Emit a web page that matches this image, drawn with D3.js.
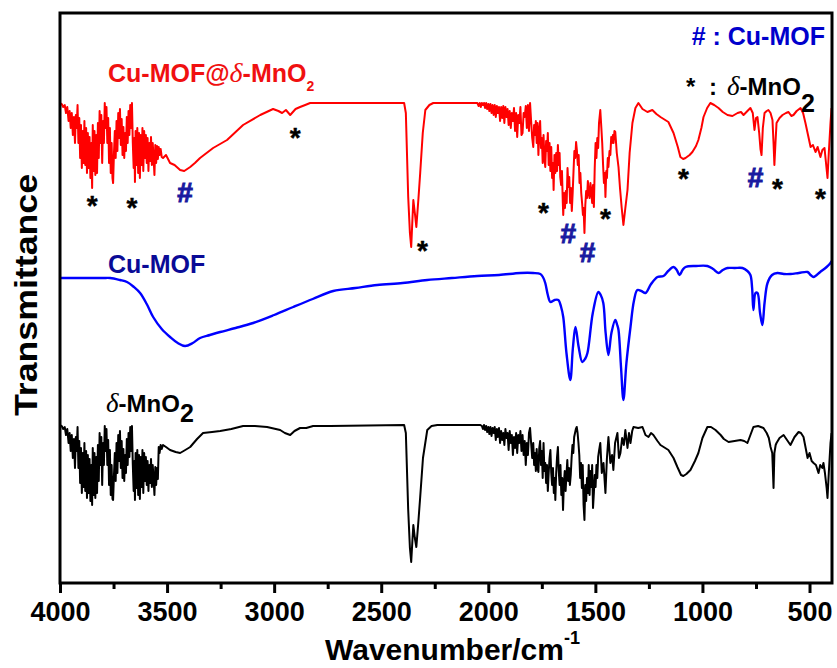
<!DOCTYPE html>
<html>
<head>
<meta charset="utf-8">
<script src="https://cdn.jsdelivr.net/npm/d3@7"></script>
<style>
  body { margin: 0; background: #fff; }
  svg { font-family: 'Liberation Sans', Arial, sans-serif; font-weight: bold; }
  .delta { font-family: 'Liberation Serif', serif; font-style: italic; font-weight: normal; }
</style>
</head>
<body>
<div id="container"></div>
<script>
const w = 837,
  h = 668;
const plotLeft = 60,
  plotRight = 832,
  plotTop = 13,
  plotBottom = 583;

// [wavenumber, transmittance (a.u.)]
const compositeData = [
  [4000, 480], [3992, 479], [3985, 476], [3978, 478], [3972, 470], [3966, 476], [3960, 462], [3955, 472],
  [3950, 455], [3945, 470], [3940, 448], [3935, 466], [3930, 440], [3926, 468], [3922, 455], [3918, 478],
  [3914, 440], [3910, 465], [3906, 425], [3902, 458], [3898, 415], [3894, 452], [3890, 420], [3886, 462],
  [3882, 418], [3878, 455], [3874, 410], [3870, 450], [3866, 415], [3862, 446], [3858, 405], [3854, 440],
  [3850, 395], [3847, 458], [3843, 412], [3839, 452], [3835, 408], [3831, 448], [3827, 410], [3823, 460],
  [3819, 425], [3815, 472], [3811, 440], [3807, 468], [3803, 420], [3799, 462], [3795, 440], [3791, 480],
  [3787, 455], [3783, 476], [3779, 440], [3775, 465], [3771, 420], [3767, 455], [3763, 410], [3759, 440],
  [3755, 405], [3752, 400], [3748, 430], [3744, 452], [3740, 425], [3736, 462], [3732, 432], [3728, 470],
  [3724, 445], [3720, 474], [3716, 438], [3712, 464], [3708, 428], [3704, 456], [3700, 425], [3696, 450],
  [3692, 432], [3688, 466], [3684, 440], [3680, 472], [3676, 448], [3672, 478], [3668, 455], [3664, 480],
  [3660, 440], [3656, 415], [3653, 445], [3650, 401], [3647, 452], [3643, 418], [3639, 455], [3635, 410],
  [3631, 450], [3627, 405], [3623, 448], [3619, 418], [3615, 455], [3611, 412], [3607, 452], [3603, 425],
  [3599, 448], [3595, 420], [3591, 445], [3587, 412], [3583, 440], [3579, 422], [3575, 446], [3571, 418],
  [3567, 440], [3563, 425], [3559, 408], [3555, 438], [3551, 420], [3547, 437], [3543, 424], [3539, 436],
  [3535, 428], [3530, 434], [3525, 426], [3519, 425], [3505, 428], [3486, 420], [3465, 418], [3439, 413],
  [3420, 412], [3392, 416], [3370, 420], [3346, 425], [3285, 435], [3220, 443], [3145, 458], [3065, 468],
  [3005, 474], [2980, 472], [2963, 470], [2945, 473], [2925, 468], [2900, 474], [2879, 476], [2855, 478],
  [2832, 480], [2393, 480], [2385, 470], [2374, 386], [2366, 350], [2360, 336], [2355, 360], [2350, 383],
  [2343, 370], [2336, 356], [2326, 385], [2318, 410], [2306, 450], [2294, 473], [2275, 478], [2257, 480],
  [2051, 480], [2045, 477], [2040, 480], [2035, 476], [2030, 480], [2025, 478], [2020, 480], [2015, 475],
  [2010, 480], [2005, 474], [2000, 479], [1995, 472], [1990, 479], [1985, 470], [1980, 478], [1975, 468],
  [1970, 478], [1965, 466], [1960, 477], [1955, 470], [1950, 476], [1945, 462], [1940, 476], [1935, 465],
  [1930, 477], [1925, 460], [1920, 476], [1915, 466], [1910, 474], [1905, 458], [1900, 472], [1895, 455],
  [1890, 470], [1885, 462], [1880, 475], [1875, 452], [1870, 470], [1865, 446], [1860, 468], [1855, 460],
  [1850, 476], [1845, 448], [1840, 450], [1835, 470], [1830, 466], [1825, 477], [1820, 455], [1815, 478],
  [1810, 452], [1805, 480], [1800, 462], [1795, 445], [1790, 436], [1786, 458], [1782, 448], [1778, 462],
  [1774, 440], [1770, 460], [1766, 428], [1762, 452], [1758, 462], [1754, 435], [1750, 445], [1746, 420],
  [1742, 448], [1738, 425], [1734, 416], [1730, 442], [1726, 432], [1722, 450], [1718, 418], [1714, 440],
  [1710, 412], [1706, 436], [1702, 405], [1698, 420], [1695, 393], [1691, 428], [1687, 410], [1683, 430],
  [1679, 412], [1675, 438], [1671, 418], [1667, 430], [1664, 406], [1660, 398], [1656, 412], [1652, 380],
  [1650, 368], [1646, 390], [1642, 375], [1638, 392], [1634, 380], [1630, 415], [1626, 396], [1622, 406],
  [1618, 380], [1614, 395], [1610, 372], [1606, 390], [1602, 412], [1598, 432], [1594, 425], [1590, 441],
  [1586, 432], [1582, 418], [1578, 428], [1574, 400], [1570, 410], [1566, 390], [1562, 380], [1558, 368],
  [1555, 375], [1551, 350], [1547, 378], [1543, 392], [1539, 385], [1535, 402], [1531, 390], [1527, 385],
  [1523, 400], [1519, 392], [1515, 380], [1511, 398], [1507, 376], [1503, 415], [1499, 440], [1495, 425],
  [1491, 445], [1487, 435], [1483, 460], [1477, 473], [1472, 455], [1468, 440], [1464, 418], [1460, 400],
  [1456, 410], [1453, 386], [1449, 412], [1446, 405], [1442, 425], [1439, 416], [1434, 432], [1430, 428],
  [1426, 446], [1422, 440], [1418, 448], [1415, 440], [1411, 452], [1407, 451], [1400, 430], [1392, 416],
  [1385, 395], [1377, 375], [1369, 358], [1360, 375], [1350, 393], [1340, 430], [1327, 460], [1313, 475],
  [1299, 480], [1280, 474], [1257, 471], [1234, 473], [1215, 469], [1196, 466], [1159, 461], [1135, 450],
  [1115, 436], [1103, 426], [1090, 424], [1079, 425], [1060, 428], [1047, 431], [1030, 437], [1019, 443],
  [1005, 455], [995, 466], [978, 475], [963, 480], [945, 478], [925, 475], [905, 471], [883, 468],
  [860, 467], [836, 470], [820, 471], [808, 468], [790, 472], [776, 475], [765, 470], [757, 453],
  [750, 465], [743, 466], [735, 450], [729, 434], [724, 428], [718, 455], [710, 470], [700, 472],
  [692, 473], [682, 470], [673, 463], [668, 440], [664, 418], [659, 440], [654, 460], [640, 465],
  [626, 468], [610, 470], [598, 471], [585, 467], [575, 468], [560, 472], [542, 475], [530, 470],
  [519, 460], [507, 448], [495, 436], [484, 438], [472, 431], [462, 436], [449, 426], [440, 433],
  [430, 435], [423, 420], [416, 405], [410, 430], [402, 460], [397, 475]
];

const mofData = [
  [4000, 305], [3900, 305], [3800, 305], [3766, 305], [3720, 303], [3687, 301], [3655, 296], [3626, 290],
  [3595, 279], [3565, 266], [3525, 254], [3486, 246], [3450, 240], [3416, 237], [3380, 240], [3346, 245],
  [3300, 248], [3252, 251], [3180, 255], [3098, 260], [3000, 268], [2911, 276], [2820, 284], [2724, 292],
  [2620, 295], [2519, 298], [2400, 300], [2285, 303], [2170, 305], [2051, 307], [1950, 308], [1850, 310],
  [1790, 310], [1757, 309], [1745, 306], [1734, 300], [1722, 288], [1710, 281], [1690, 283], [1673, 283],
  [1660, 276], [1650, 266], [1635, 230], [1617, 203], [1605, 235], [1593, 256], [1578, 236], [1561, 221],
  [1548, 224], [1537, 230], [1512, 270], [1486, 291], [1475, 288], [1463, 280], [1452, 250], [1439, 228],
  [1425, 250], [1407, 263], [1398, 258], [1392, 253], [1380, 215], [1369, 183], [1355, 220], [1336, 256],
  [1320, 282], [1304, 293], [1285, 292], [1266, 290], [1240, 299], [1210, 306], [1182, 307], [1160, 312],
  [1135, 316], [1120, 313], [1107, 308], [1093, 313], [1079, 316], [1030, 317], [977, 317], [950, 314],
  [925, 310], [905, 313], [883, 315], [850, 315], [813, 315], [790, 312], [776, 308], [768, 295],
  [762, 273], [752, 290], [743, 290], [731, 270], [720, 258], [710, 280], [696, 300], [675, 308],
  [650, 310], [620, 309], [589, 309], [550, 310], [509, 311], [495, 308], [481, 306], [450, 311],
  [420, 316], [402, 320], [397, 322]
];

const mno2Data = [
  [4000, 158], [3992, 157], [3985, 154], [3978, 156], [3972, 148], [3966, 154], [3960, 140], [3955, 150],
  [3950, 132], [3945, 148], [3940, 125], [3935, 144], [3930, 115], [3926, 146], [3922, 132], [3918, 156],
  [3914, 115], [3910, 142], [3906, 100], [3902, 135], [3898, 90], [3894, 130], [3890, 96], [3886, 140],
  [3882, 92], [3878, 132], [3874, 85], [3870, 128], [3866, 90], [3862, 124], [3858, 82], [3854, 118],
  [3850, 78], [3847, 135], [3843, 88], [3839, 130], [3835, 85], [3831, 126], [3827, 90], [3823, 138],
  [3819, 102], [3815, 150], [3811, 118], [3807, 146], [3803, 98], [3799, 140], [3795, 118], [3791, 157],
  [3787, 132], [3783, 154], [3779, 118], [3775, 143], [3771, 98], [3767, 133], [3763, 88], [3759, 118],
  [3755, 84], [3752, 83], [3748, 108], [3744, 130], [3740, 102], [3736, 140], [3732, 110], [3728, 148],
  [3724, 122], [3720, 152], [3716, 115], [3712, 142], [3708, 105], [3704, 134], [3700, 102], [3696, 128],
  [3692, 110], [3688, 144], [3684, 118], [3680, 150], [3676, 126], [3672, 156], [3668, 132], [3664, 157],
  [3660, 118], [3656, 92], [3653, 122], [3650, 83], [3647, 130], [3643, 95], [3639, 133], [3635, 88],
  [3631, 128], [3627, 84], [3623, 126], [3619, 96], [3615, 133], [3611, 90], [3607, 130], [3603, 102],
  [3599, 126], [3595, 98], [3591, 122], [3587, 92], [3583, 118], [3579, 100], [3575, 124], [3571, 96],
  [3567, 118], [3563, 104], [3559, 88], [3555, 116], [3551, 98], [3547, 115], [3543, 104], [3539, 136],
  [3535, 130], [3530, 138], [3525, 134], [3519, 138], [3505, 136], [3486, 133], [3460, 131], [3439, 130],
  [3415, 133], [3392, 136], [3360, 144], [3332, 150], [3290, 151], [3252, 152], [3200, 154], [3145, 157],
  [3090, 157], [3033, 156], [2972, 153], [2950, 150], [2925, 148], [2905, 152], [2879, 155], [2850, 155],
  [2818, 157], [2738, 157], [2393, 158], [2385, 150], [2374, 73], [2366, 35], [2360, 21], [2355, 40],
  [2350, 58], [2343, 45], [2336, 36], [2327, 60], [2318, 86], [2305, 125], [2285, 153], [2265, 157],
  [2238, 158], [2037, 158], [2030, 157], [2025, 154], [2020, 158], [2015, 153], [2010, 157], [2005, 151],
  [2000, 156], [1995, 149], [1990, 156], [1985, 147], [1980, 155], [1975, 150], [1970, 156], [1965, 143],
  [1960, 154], [1955, 146], [1950, 155], [1945, 140], [1940, 152], [1935, 143], [1930, 150], [1925, 138],
  [1920, 154], [1915, 145], [1910, 150], [1905, 133], [1900, 152], [1895, 140], [1890, 148], [1885, 128],
  [1880, 146], [1875, 135], [1870, 150], [1865, 130], [1860, 148], [1855, 140], [1850, 152], [1845, 132],
  [1840, 148], [1835, 128], [1830, 142], [1825, 118], [1820, 140], [1815, 128], [1810, 150], [1805, 155],
  [1800, 140], [1795, 125], [1790, 140], [1786, 118], [1782, 130], [1778, 112], [1774, 134], [1770, 115],
  [1766, 111], [1762, 135], [1758, 142], [1754, 118], [1750, 132], [1746, 105], [1742, 140], [1738, 112],
  [1734, 120], [1730, 100], [1726, 118], [1722, 92], [1718, 110], [1714, 125], [1710, 133], [1706, 110],
  [1702, 98], [1698, 115], [1694, 90], [1690, 105], [1687, 83], [1683, 110], [1679, 126], [1675, 136],
  [1671, 112], [1667, 98], [1663, 118], [1659, 88], [1655, 105], [1651, 73], [1647, 100], [1643, 112],
  [1639, 92], [1635, 108], [1631, 123], [1627, 102], [1623, 115], [1619, 98], [1615, 108], [1611, 125],
  [1607, 138], [1603, 130], [1599, 146], [1595, 150], [1591, 154], [1587, 156], [1583, 150], [1579, 140],
  [1575, 128], [1571, 105], [1567, 120], [1563, 95], [1559, 118], [1555, 78], [1551, 63], [1547, 98],
  [1543, 82], [1539, 105], [1535, 90], [1531, 118], [1527, 88], [1523, 112], [1519, 96], [1515, 118],
  [1511, 75], [1507, 90], [1503, 108], [1499, 96], [1495, 118], [1491, 105], [1487, 126], [1483, 132],
  [1477, 140], [1470, 110], [1462, 120], [1453, 90], [1446, 125], [1439, 146], [1430, 120], [1422, 128],
  [1416, 113], [1408, 140], [1397, 150], [1390, 125], [1383, 130], [1375, 145], [1367, 138], [1360, 153],
  [1350, 135], [1343, 150], [1336, 140], [1328, 152], [1322, 156], [1300, 155], [1280, 156], [1266, 148],
  [1252, 146], [1240, 150], [1229, 148], [1210, 142], [1196, 138], [1159, 133], [1135, 125], [1117, 116],
  [1100, 108], [1089, 107], [1075, 109], [1056, 113], [1035, 122], [1019, 130], [1000, 145], [977, 156],
  [960, 156], [939, 153], [915, 148], [900, 144], [878, 141], [850, 142], [822, 143], [805, 142],
  [790, 140], [776, 148], [762, 156], [740, 157], [715, 155], [700, 150], [690, 145], [682, 136],
  [674, 130], [668, 95], [664, 130], [658, 138], [654, 140], [640, 145], [621, 148], [605, 143],
  [589, 138], [570, 146], [551, 151], [540, 150], [528, 146], [518, 135], [509, 125], [500, 130],
  [490, 122], [481, 120], [470, 118], [458, 110], [450, 118], [440, 115], [435, 120], [428, 110],
  [420, 95], [416, 85], [410, 110], [402, 140], [397, 150]
];

// peak markers: [wavenumber, transmittance, symbol]
const peakMarks = [
  [3850, 383, '*'], [3664, 381, '*'], [2902, 451, '*'], [2308, 338, '*'], [1743, 376, '*'],
  [1453, 370, '*'], [1089, 410, '*'], [650, 400, '*'], [449, 390, '*'],
  [3416, 391, '#'], [1626, 350, '#'], [1537, 331, '#'], [752, 406, '#']
];

const majorTicks = [4000, 3500, 3000, 2500, 2000, 1500, 1000, 500];
const minorTicks = [3750, 3250, 2750, 2250, 1750, 1250, 750];

const svg = d3.select('#container').append('svg').attr('width', w).attr('height', h);

const xScale = d3.scaleLinear().domain([4000, 395]).range([plotLeft, plotRight]);
const yScale = d3.scaleLinear().domain([0, 570]).range([plotBottom, plotTop]);

const line = d3
  .line()
  .x((d) => xScale(d[0]))
  .y((d) => yScale(d[1]));

svg
  .append('path')
  .datum(mno2Data)
  .attr('d', line)
  .attr('fill', 'none')
  .attr('stroke', '#000')
  .attr('stroke-width', 2)
  .attr('stroke-linejoin', 'round');

svg
  .append('path')
  .datum(mofData)
  .attr('d', line.curve(d3.curveCatmullRom))
  .attr('fill', 'none')
  .attr('stroke', '#0000ff')
  .attr('stroke-width', 2.4);

svg
  .append('path')
  .datum(compositeData)
  .attr('d', line.curve(d3.curveLinear))
  .attr('fill', 'none')
  .attr('stroke', '#ff0000')
  .attr('stroke-width', 2)
  .attr('stroke-linejoin', 'round');

// markers
svg
  .selectAll('.mark')
  .data(peakMarks)
  .enter()
  .append('text')
  .attr('class', 'mark')
  .attr('x', (d) => xScale(d[0]))
  .attr('y', (d) => yScale(d[1]))
  .attr('dy', (d) => (d[2] === '*' ? '0.55em' : '0.36em'))
  .attr('text-anchor', 'middle')
  .attr('font-size', 28)
  .attr('fill', (d) => (d[2] === '*' ? '#000' : '#1a1aa0'))
  .attr('stroke', (d) => (d[2] === '*' ? '#000' : '#1a1aa0'))
  .attr('stroke-width', (d) => (d[2] === '*' ? 0.4 : 1))
  .text((d) => d[2]);

// frame and x axis
svg
  .append('rect')
  .attr('x', plotLeft)
  .attr('y', plotTop)
  .attr('width', plotRight - plotLeft)
  .attr('height', plotBottom - plotTop)
  .attr('fill', 'none')
  .attr('stroke', '#000')
  .attr('stroke-width', 3);

const xAxis = d3.axisBottom(xScale).tickValues(majorTicks).tickSize(10).tickFormat(d3.format('d'));
const gx = svg
  .append('g')
  .attr('transform', 'translate(0, ' + plotBottom + ')')
  .call(xAxis);
gx.select('.domain').remove();
gx.selectAll('line').attr('stroke-width', 3);
gx.selectAll('text')
  .attr('y', 19)
  .attr('font-size', 27)
  .attr('font-family', "'Liberation Sans', Arial, sans-serif")
  .attr('font-weight', 'bold')
  .attr('fill', '#000');

svg
  .append('g')
  .attr('transform', 'translate(0, ' + plotBottom + ')')
  .call(d3.axisBottom(xScale).tickValues(minorTicks).tickSize(6).tickFormat(''))
  .call((g) => g.select('.domain').remove())
  .selectAll('line')
  .attr('stroke-width', 3);

// axis titles
const xTitle = svg
  .append('text')
  .attr('x', 325)
  .attr('y', 660)
  .attr('font-size', 30);
xTitle.append('tspan').text('Wavenumber/cm');
xTitle.append('tspan').attr('font-size', 18).attr('dy', -16).text('-1');

svg
  .append('text')
  .text('Transmittance')
  .attr('transform', 'rotate(-90)')
  .attr('x', -295)
  .attr('y', 37)
  .attr('text-anchor', 'middle')
  .attr('font-size', 31)
  .attr('textLength', 242)
  .attr('lengthAdjust', 'spacingAndGlyphs');

// series labels
const redLabel = svg.append('text').attr('x', 108).attr('y', 82).attr('font-size', 25).attr('fill', '#f01010');
redLabel.append('tspan').text('Cu-MOF@');
redLabel.append('tspan').attr('class', 'delta').attr('font-size', 28).text('δ');
redLabel.append('tspan').text('-MnO');
redLabel.append('tspan').attr('font-size', 14).attr('dy', 9).text('2');

svg
  .append('text')
  .attr('x', 108)
  .attr('y', 273)
  .attr('font-size', 25)
  .attr('fill', '#0a0a96')
  .text('Cu-MOF');

const blackLabel = svg.append('text').attr('x', 106).attr('y', 412).attr('font-size', 24).attr('fill', '#000');
blackLabel.append('tspan').attr('class', 'delta').attr('font-size', 27).text('δ');
blackLabel.append('tspan').text('-MnO');
blackLabel.append('tspan').attr('font-size', 25).attr('dy', 10).text('2');

// legend
svg
  .append('text')
  .attr('x', 825)
  .attr('y', 45)
  .attr('text-anchor', 'end')
  .attr('font-size', 25)
  .attr('fill', '#0000cc')
  .text('# : Cu-MOF');

const legend2 = svg.append('text').attr('y', 95).attr('font-size', 24).attr('fill', '#000');
legend2.append('tspan').attr('x', 686).text('*');
legend2.append('tspan').attr('x', 709).text(':');
legend2.append('tspan').attr('x', 727).attr('class', 'delta').attr('font-size', 27).text('δ');
legend2.append('tspan').text('-MnO');
legend2.append('tspan').attr('font-size', 25).attr('dy', 17).text('2');
</script>
</body>
</html>
